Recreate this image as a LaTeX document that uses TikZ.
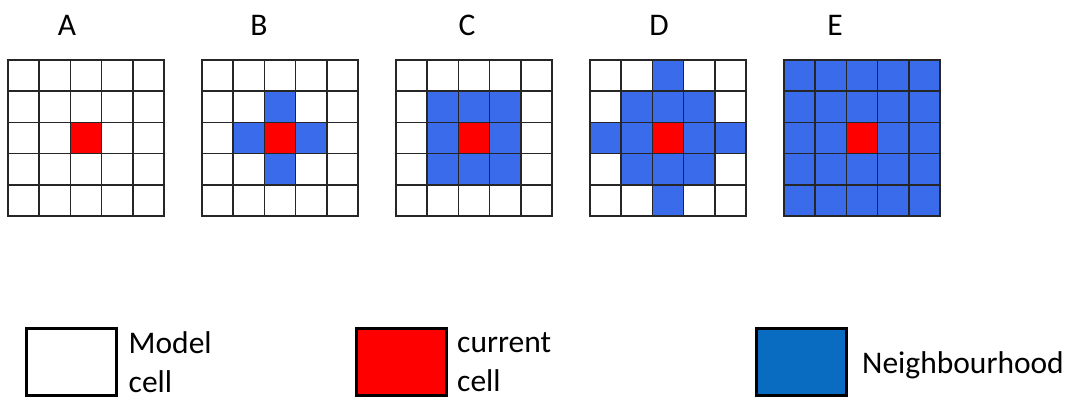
\documentclass[tikz,border=0pt]{standalone}
\usepackage{fontspec}
\setmainfont{Carlito}
\usepackage{tikz}
\usetikzlibrary{positioning}
\definecolor{cellline}{HTML}{262626}
\definecolor{currentred}{HTML}{FF0000}
\definecolor{nbhblue}{HTML}{3A6BEA}
\definecolor{legendblue}{HTML}{0A6CC0}

\begin{document}
\begin{tikzpicture}[
    x=1pt, y=-1pt,
    cell/.style={rectangle, draw=cellline, line width=1.6pt, minimum size=31.2pt,
                 inner sep=0pt, outer sep=0pt},
    panellabel/.style={font=\fontsize{31.5}{38}\selectfont, anchor=base, inner sep=0pt},
    legbox/.style={rectangle, draw=black, line width=3pt, minimum width=90pt,
                   minimum height=67pt, inner sep=0pt, outer sep=0pt},
    legtext/.style={font=\fontsize{31.5}{39}\selectfont, align=left, inner sep=0pt},
]
\useasboundingbox (0,0) rectangle (1070,399);

% ── Five 5x5 panels: label, radius, metric (1 = city block, 0 = chessboard) ──
\foreach \name/\lx/\r/\m [count=\k from 0] in {A/67/0/1, B/259/1/1, C/467/1/0, D/659/2/1, E/835/2/0} {
    \pgfmathsetmacro\gx{8+194*\k}
    \node[panellabel] (lbl\name) at (\lx,35) {\name};
    \foreach \i in {0,...,4} {
        \foreach \j in {0,...,4} {
            \pgfmathtruncatemacro\d{\m==1 ? abs(\i-2)+abs(\j-2) : max(abs(\i-2),abs(\j-2))}
            \def\fillc{white}
            \ifnum\d>\r\else\def\fillc{nbhblue}\fi
            \ifnum\d=0 \def\fillc{currentred}\fi
            \node[cell, fill=\fillc] (\name-\i-\j) at (\gx+15.6+31.2*\i, 75.6+31.2*\j) {};
        }
    }
}

% ── Legend ──────────────────────────────────────────────────────────────────
\node[legbox, fill=white] (modelbox) at (71.5,362) {};
\node[legtext, anchor=west, right=12pt of modelbox] (modeltxt) {Model\\cell};

\node[legbox, fill=currentred] (currbox) at (401,362) {};
\node[legtext, anchor=west, right=11pt of currbox] (currtxt) {current\\cell};

\node[legbox, fill=legendblue] (nbhbox) at (801,362) {};
\node[legtext, anchor=base west] (nbhtxt) at (862,373) {Neighbourhood};

\end{tikzpicture}
\end{document}
